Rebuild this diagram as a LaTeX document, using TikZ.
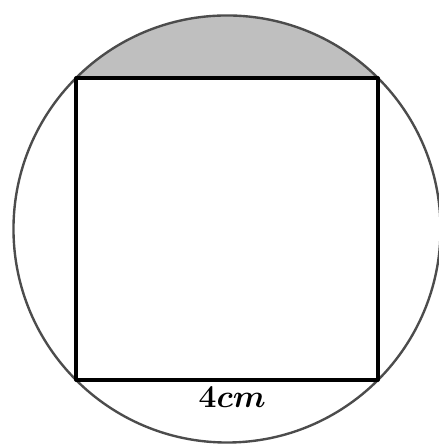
\documentclass[tikz,border=0pt]{standalone}
\begin{document}
\begin{tikzpicture}[line join=round]
  \useasboundingbox (-3.007,-2.848) rectangle (2.795,3.033);
  \coordinate (O) at (0,0);
  \coordinate (A) at (-2,-2);
  \coordinate (B) at (2,-2);
  \coordinate (C) at (2,2);
  \coordinate (D) at (-2,2);
  \fill[gray!50] (D) arc[start angle=135, end angle=45, radius=2.8284] -- cycle;
  \draw[line width=0.9pt, black!70] (O) circle (2.8284);
  \draw[line width=1.2pt] (A) -- (B) -- (C) -- (D) -- cycle;
  \node[below, inner sep=2.5pt, font=\large\boldmath] (len) at (0.07,-2) {$4cm$};
\end{tikzpicture}
\end{document}
